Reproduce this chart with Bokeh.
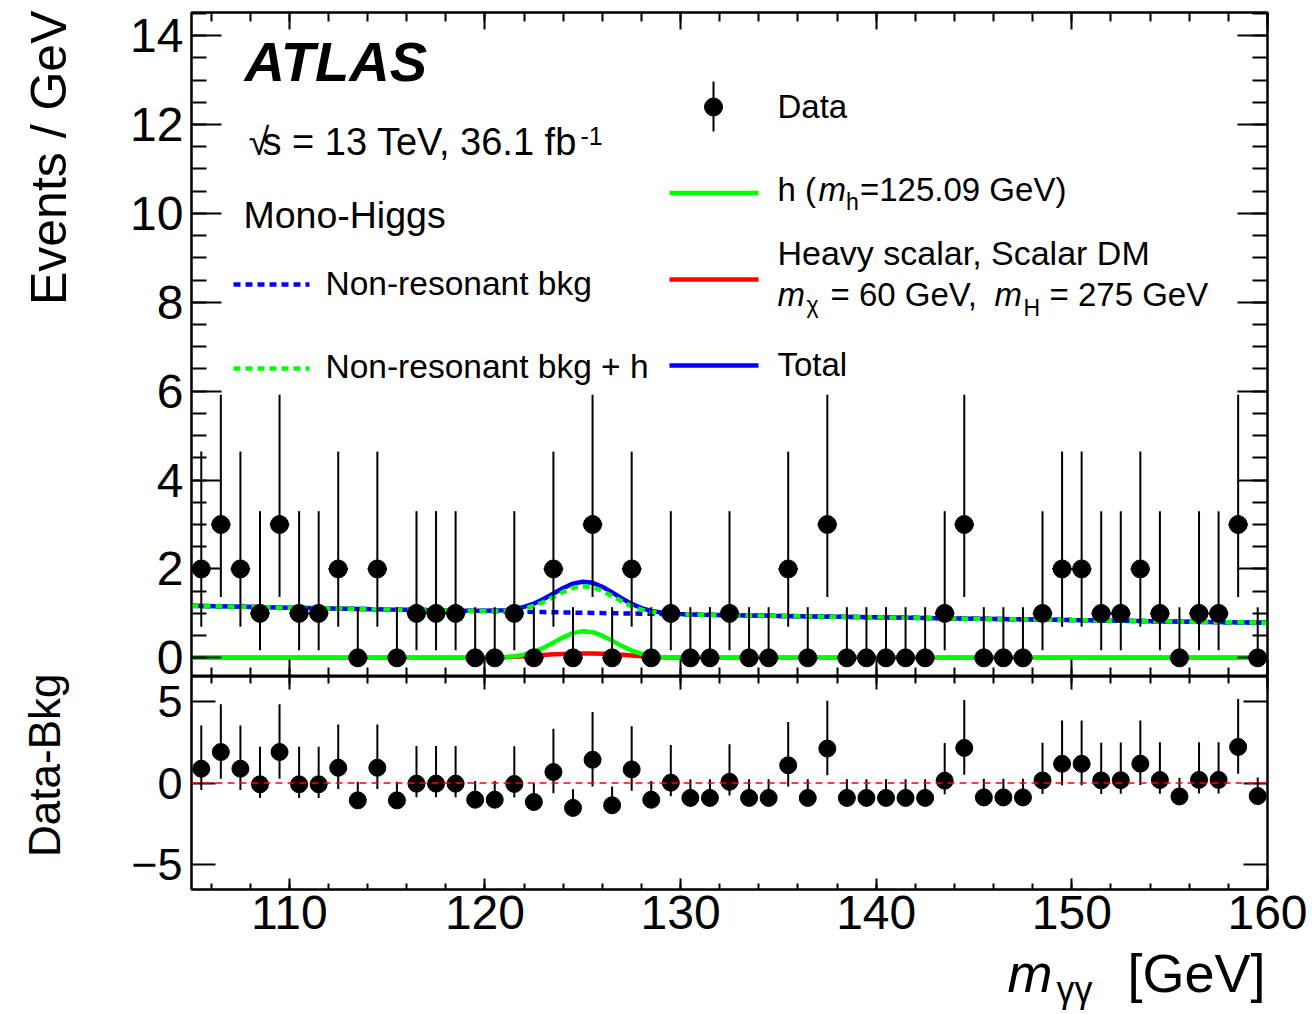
import math
import numpy as np
from bokeh.plotting import figure
from bokeh.layouts import column, row
from bokeh.models import (Label, Span, LinearAxis, SingleIntervalTicker,
                          FixedTicker, Range1d)
from bokeh.embed import file_html
from bokeh.resources import INLINE

# ---------------- data ----------------
bin_centers = np.arange(105.5, 160.0, 1.0)          # 1 GeV bins, 105-160 GeV
counts = [2, 3, 2, 1, 3, 1, 1, 2, 0, 2,
          0, 1, 1, 1, 0, 0, 1, 0, 2, 0,
          3, 0, 2, 0, 1, 0, 0, 1, 0, 0,
          2, 0, 3, 0, 0, 0, 0, 0, 1, 3,
          0, 0, 0, 1, 2, 2, 1, 1, 2, 1,
          0, 1, 1, 3, 0]
residuals = [0.87, 1.89, 0.87, -0.08, 1.89, -0.08, -0.08, 0.93, -1.06, 0.93,
             -1.06, -0.04, -0.04, -0.04, -1.02, -1.02, -0.06, -1.16, 0.67, -1.52,
             1.42, -1.36, 0.83, -1.02, 0.02, -0.91, -0.91, 0.07, -0.91, -0.91,
             1.08, -0.91, 2.10, -0.91, -0.91, -0.91, -0.91, -0.91, 0.14, 2.14,
             -0.88, -0.88, -0.88, 0.16, 1.17, 1.17, 0.16, 0.17, 1.18, 0.18,
             -0.82, 0.19, 0.19, 2.20, -0.80]
# asymmetric error bars as drawn, per observed count (0, 1, 2, 3)
err_down_by_count = [0.0, 0.83, 1.30, 1.63]
err_up_by_count = [1.14, 2.30, 2.64, 2.92]

curve_x = [105, 110, 115, 119, 120, 121, 121.5, 122, 122.5, 123, 123.5, 124,
           124.5, 125, 125.5, 126, 126.5, 127, 127.5, 128, 128.5, 129, 130,
           131, 135, 140, 145, 150, 155, 160]
bkg_curve = [1.170, 1.129, 1.089, 1.059, 1.051, 1.043, 1.040, 1.037, 1.033,
             1.029, 1.025, 1.021, 1.018, 1.014, 1.011, 1.007, 1.004, 1.000,
             0.997, 0.993, 0.990, 0.986, 0.979, 0.972, 0.944, 0.911, 0.880,
             0.849, 0.819, 0.790]
h_curve = [0, 0, 0, 0, 0.002, 0.015, 0.034, 0.072, 0.135, 0.227, 0.342, 0.461,
           0.556, 0.599, 0.578, 0.499, 0.386, 0.267, 0.165, 0.091, 0.045, 0.020,
           0.003, 0, 0, 0, 0, 0, 0, 0]
heavy_curve = [0, 0, 0, 0, 0.005, 0.015, 0.025, 0.038, 0.052, 0.066, 0.079,
               0.089, 0.096, 0.099, 0.098, 0.092, 0.082, 0.068, 0.052, 0.036,
               0.022, 0.012, 0.003, 0, 0, 0, 0, 0, 0, 0]

# ---------------- derived ----------------
cnt = np.array(counts, dtype=float)
res = np.array(residuals)
edn = np.array([err_down_by_count[n] for n in counts])
eup = np.array([err_up_by_count[n] for n in counts])
bkg_plus_h = np.array(bkg_curve) + np.array(h_curve)
total = bkg_plus_h + np.array(heavy_curve)

FONT = "Liberation Sans"
GREEN, RED, BLUE = "#00ff00", "#ff0000", "#0000ff"

# ---------------- geometry (page pixels) ----------------
PAGE_W, PAGE_H = 1312, 1014
LEFT_W = 80                      # narrow strip holding the rotated y titles
FRAME_L, FRAME_R = 191, 1267
X0, X1 = 105, 160
Y1_LO, Y1_HI = -0.42, 14.52
P1_TOP, P1_BOT = 12, 676
Y2_LO, Y2_HI = -6.5, 6.5
P2_TOP, P2_BOT = 676, 889
P2_BORDER_BOTTOM = 60
XT_TOP = P2_BOT + P2_BORDER_BOTTOM   # strip holding the x title


def xp(px):
    return X0 + (px - FRAME_L) * (X1 - X0) / (FRAME_R - FRAME_L)


def y1p(py):
    return Y1_HI - (py - P1_TOP) * (Y1_HI - Y1_LO) / (P1_BOT - P1_TOP)


def y2p(py):
    return Y2_HI - (py - P2_TOP) * (Y2_HI - Y2_LO) / (P2_BOT - P2_TOP)


def ident(v):
    return v


def add_axis(fig, side, ticker, major_in, minor_in, labels=False, size="47px",
             standoff=0, overrides=None):
    ax = LinearAxis(ticker=ticker)
    ax.axis_line_color = "black"
    ax.axis_line_width = 2
    ax.major_tick_in = major_in
    ax.major_tick_out = 0
    ax.minor_tick_in = minor_in
    ax.minor_tick_out = 0
    ax.major_tick_line_width = 2
    ax.minor_tick_line_width = 2
    ax.major_tick_line_color = "black"
    ax.minor_tick_line_color = "black"
    if labels:
        ax.major_label_text_font = FONT
        ax.major_label_text_font_size = size
        ax.major_label_text_color = "black"
        ax.major_label_standoff = standoff
    else:
        ax.major_label_text_color = None
        ax.major_label_standoff = 0
    if overrides:
        ax.major_label_overrides = overrides
    fig.add_layout(ax, side)


def lab(fig, px, py, text, size, xfun, yfun, style="normal"):
    """Left-aligned horizontal text whose alphabetic baseline sits at page y = py."""
    fig.add_layout(Label(x=xfun(px), y=yfun(py - 0.37 * size), text=text,
                         text_font=FONT, text_font_size=f"{size}px",
                         text_font_style=style, text_align="left",
                         text_baseline="middle", text_color="black"))


def vlab(fig, cx, top, text, size):
    """Vertical (bottom-to-top) text ending at page y = top, centred on cx."""
    fig.add_layout(Label(x=cx, y=top, text=text, text_font=FONT,
                         text_font_size=f"{size}px", text_align="right",
                         text_baseline="middle", text_color="black",
                         angle=math.pi / 2))


def strip(width, height, x_lo, x_hi, y_top, border_l=0, border_r=0):
    f = figure(width=width, height=height, x_range=Range1d(x_lo, x_hi),
               y_range=Range1d(y_top + height, y_top), output_backend="svg",
               toolbar_location=None, x_axis_location=None,
               y_axis_location=None, min_border=0,
               min_border_left=border_l, min_border_right=border_r,
               min_border_top=0, min_border_bottom=0)
    f.grid.visible = False
    f.outline_line_color = None
    f.background_fill_color = "white"
    f.border_fill_color = "white"
    return f


# ---------------- main panel ----------------
p1 = figure(width=PAGE_W - LEFT_W, height=P1_BOT, x_range=Range1d(X0, X1),
            y_range=Range1d(Y1_LO, Y1_HI), output_backend="svg",
            toolbar_location=None, x_axis_location=None, y_axis_location=None,
            min_border_left=FRAME_L - LEFT_W, min_border_right=PAGE_W - FRAME_R,
            min_border_top=P1_TOP, min_border_bottom=0)
p1.grid.visible = False
p1.outline_line_color = "black"
p1.outline_line_width = 2
p1.background_fill_color = "white"
p1.border_fill_color = "white"

add_axis(p1, "left", SingleIntervalTicker(interval=2, num_minor_ticks=4), 30, 15,
         labels=True, size="48px", standoff=8)
add_axis(p1, "right", SingleIntervalTicker(interval=2, num_minor_ticks=4), 30, 15)
add_axis(p1, "above", SingleIntervalTicker(interval=10, num_minor_ticks=5), 17, 9)
add_axis(p1, "below", SingleIntervalTicker(interval=10, num_minor_ticks=5), 17, 9)

p1.line(curve_x, heavy_curve, line_color=RED, line_width=4.5)
p1.line(curve_x, h_curve, line_color=GREEN, line_width=4.5)
p1.line(curve_x, total, line_color=BLUE, line_width=4.5)
p1.line(curve_x, bkg_curve, line_color=BLUE, line_width=4.5, line_dash="7 5")
p1.line(curve_x, bkg_plus_h, line_color=GREEN, line_width=4.5, line_dash="7 5")

p1.segment(x0=bin_centers, y0=cnt - edn, x1=bin_centers, y1=cnt + eup,
           line_color="black", line_width=2)
p1.segment(x0=bin_centers - 0.5, y0=cnt, x1=bin_centers + 0.5, y1=cnt,
           line_color="black", line_width=2)
p1.scatter(bin_centers, cnt, marker="circle", size=18, fill_color="black",
           line_color="black")

# texts of the main panel
lab(p1, 244, 82, "ATLAS", 56, xp, y1p, style="bold italic")
lab(p1, 248, 156, "√", 38, xp, y1p)
lab(p1, 262, 156, "s = 13 TeV, 36.1 fb", 38, xp, y1p)
lab(p1, 580, 145, "-1", 25, xp, y1p)
lab(p1, 243, 228, "Mono-Higgs", 37.5, xp, y1p)

# left legend
p1.line([xp(233), xp(309)], [y1p(284)] * 2, line_color=BLUE, line_width=4.5,
        line_dash="7 5")
lab(p1, 325, 295, "Non-resonant bkg", 33.5, xp, y1p)
p1.line([xp(233), xp(309)], [y1p(368)] * 2, line_color=GREEN, line_width=4.5,
        line_dash="7 5")
lab(p1, 325, 378, "Non-resonant bkg + h", 33.5, xp, y1p)

# right legend
p1.segment(x0=[xp(713)], y0=[y1p(131)], x1=[xp(713)], y1=[y1p(81)],
           line_color="black", line_width=2)
p1.scatter([xp(713)], [y1p(106.5)], marker="circle", size=18, color="black")
lab(p1, 777, 118, "Data", 33, xp, y1p)

p1.line([xp(669), xp(758)], [y1p(192.5)] * 2, line_color=GREEN, line_width=4.5)
lab(p1, 777, 201.5, "h (", 33, xp, y1p)
lab(p1, 818, 201.5, "m", 33, xp, y1p, style="italic")
lab(p1, 845.5, 210, "h", 23, xp, y1p)
lab(p1, 859.5, 201.5, "=125.09 GeV)", 33, xp, y1p)

p1.line([xp(669), xp(758)], [y1p(279)] * 2, line_color=RED, line_width=4.5)
lab(p1, 777, 265, "Heavy scalar, Scalar DM", 34, xp, y1p)
lab(p1, 777, 306.5, "m", 33, xp, y1p, style="italic")
lab(p1, 806, 313, "χ", 23, xp, y1p)
lab(p1, 830, 306.5, "= 60 GeV,", 33, xp, y1p)
lab(p1, 994, 306.5, "m", 33, xp, y1p, style="italic")
lab(p1, 1023, 316.5, "H", 23, xp, y1p)
lab(p1, 1049, 306.5, "= 275 GeV", 33, xp, y1p)

p1.line([xp(669), xp(758)], [y1p(365)] * 2, line_color=BLUE, line_width=4.5)
lab(p1, 777, 376.5, "Total", 33, xp, y1p)

# ---------------- ratio panel ----------------
p2 = figure(width=PAGE_W - LEFT_W, height=P2_BOT - P2_TOP + P2_BORDER_BOTTOM,
            x_range=p1.x_range, y_range=Range1d(Y2_LO, Y2_HI),
            output_backend="svg", toolbar_location=None,
            x_axis_location=None, y_axis_location=None,
            min_border_left=FRAME_L - LEFT_W, min_border_right=PAGE_W - FRAME_R,
            min_border_top=0, min_border_bottom=P2_BORDER_BOTTOM)
p2.grid.visible = False
p2.outline_line_color = "black"
p2.outline_line_width = 2
p2.background_fill_color = "white"
p2.border_fill_color = "white"

add_axis(p2, "left", FixedTicker(ticks=[-5, 0, 5], minor_ticks=[]), 24, 0,
         labels=True, size="45px", standoff=9, overrides={-5: "−5"})
add_axis(p2, "right", FixedTicker(ticks=[-5, 0, 5], minor_ticks=[]), 24, 0)
add_axis(p2, "above", SingleIntervalTicker(interval=10, num_minor_ticks=5), 13, 7)
add_axis(p2, "below", SingleIntervalTicker(interval=10, num_minor_ticks=5), 11, 6,
         labels=True, size="48px", standoff=6)

p2.add_layout(Span(location=0, dimension="width", line_color=RED,
                   line_width=1.5, line_dash="7 5"))
p2.segment(x0=bin_centers, y0=res - edn, x1=bin_centers, y1=res + eup,
           line_color="black", line_width=2)
p2.scatter(bin_centers, res, marker="circle", size=17, fill_color="black",
           line_color="black")

# ---------------- title strips ----------------
left_strip = strip(LEFT_W, PAGE_H, 0, LEFT_W, 0)
vlab(left_strip, 67 - 0.37 * 50, 10, "Events / GeV", 50)
vlab(left_strip, 60 - 0.37 * 44, 673, "Data-Bkg", 44)

# same frame as the panels above (the column aligns frames), page-pixel ranges
xt_strip = strip(PAGE_W - LEFT_W, PAGE_H - XT_TOP, FRAME_L, FRAME_R, XT_TOP,
                 border_l=FRAME_L - LEFT_W, border_r=PAGE_W - FRAME_R)
lab(xt_strip, 1007, 992, "m", 54, ident, ident, style="italic")
lab(xt_strip, 1056, 1002, "γγ", 36, ident, ident)
lab(xt_strip, 1127, 992, "[GeV]", 54, ident, ident)

layout = row(left_strip, column(p1, p2, xt_strip, spacing=0), spacing=0)
open("out.html", "w").write(file_html(layout, INLINE, "ATLAS mono-Higgs diphoton"))
